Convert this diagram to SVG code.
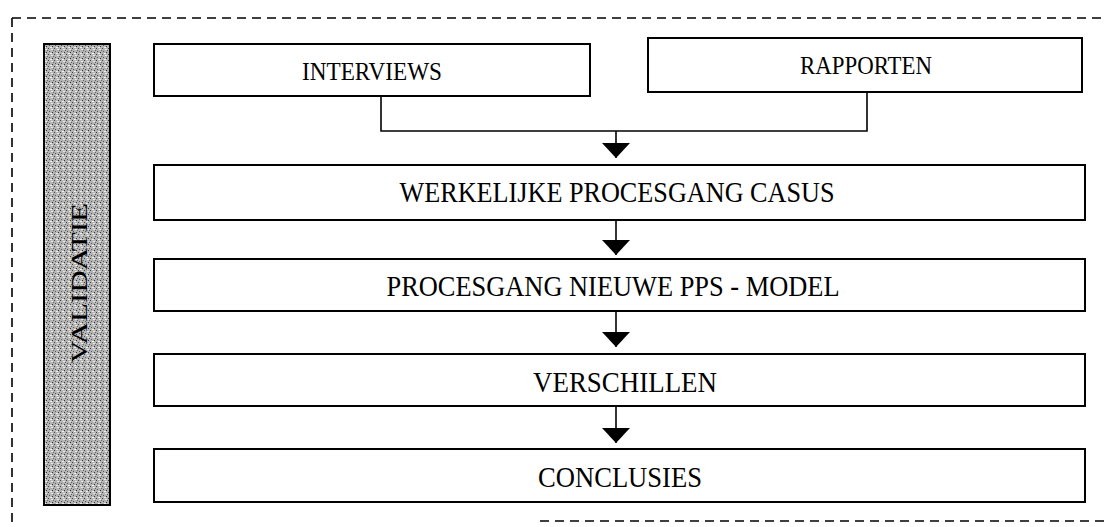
<svg xmlns="http://www.w3.org/2000/svg" width="1107" height="527" viewBox="0 0 1107 527">
<style>
.box{fill:#fff;stroke:#000;stroke-width:2}
.lbl{font-family:"Liberation Serif","Times New Roman",serif;fill:#000;text-anchor:middle}
.big{font-size:30px}
.sm{font-size:26px}
.con{fill:none;stroke:#000;stroke-width:1.6}
.frame{fill:none;stroke:#000;stroke-width:1.6;stroke-dasharray:9 6}
</style>
<defs>
<pattern id="stip" width="6" height="6" patternUnits="userSpaceOnUse">
<rect width="6" height="6" fill="#b4b4b4"/>
<rect x="0" y="0" width="1" height="1" fill="#444"/>
<rect x="3" y="1" width="2" height="1" fill="#e8e8e8"/>
<rect x="1" y="3" width="1" height="1" fill="#555"/>
<rect x="4" y="4" width="1" height="1" fill="#333"/>
<rect x="2" y="5" width="2" height="1" fill="#eeeeee"/>
<rect x="5" y="2" width="1" height="1" fill="#666"/>
</pattern>
<marker id="ah" markerUnits="userSpaceOnUse" markerWidth="16" markerHeight="30" viewBox="0 -15 16 30" refX="15" refY="0" orient="auto">
<path d="M0,-14 L15,0 L0,14 Z" fill="#000"/>
</marker>
</defs>
<g id="frame">
<line class="frame" x1="12" y1="18" x2="1107" y2="18"/>
<line class="frame" x1="12" y1="18" x2="12" y2="527"/>
<line class="frame" x1="540" y1="521" x2="1107" y2="521"/>
</g>
<g id="validatie">
<rect x="44" y="44" width="66" height="461" fill="url(#stip)" stroke="#000" stroke-width="2"/>
<text class="lbl" font-size="23" transform="translate(87,283) rotate(-90)" textLength="160" lengthAdjust="spacingAndGlyphs">VALIDATIE</text>
</g>
<g id="connectors">
<polyline class="con" points="381,96 381,131 867,131 867,92"/>
<line class="con" x1="616" y1="131" x2="616" y2="158" marker-end="url(#ah)"/>
<line class="con" x1="616" y1="221" x2="616" y2="255" marker-end="url(#ah)"/>
<line class="con" x1="616" y1="312" x2="616" y2="347" marker-end="url(#ah)"/>
<line class="con" x1="616" y1="406" x2="616" y2="443" marker-end="url(#ah)"/>
</g>
<g id="interviews">
<rect class="box" x="154" y="44" width="436" height="52"/>
<text class="lbl sm" x="372" y="80" textLength="140" lengthAdjust="spacingAndGlyphs">INTERVIEWS</text>
</g>
<g id="rapporten">
<rect class="box" x="648" y="38" width="434" height="54"/>
<text class="lbl sm" x="866" y="74" textLength="132" lengthAdjust="spacingAndGlyphs">RAPPORTEN</text>
</g>
<g id="werkelijke">
<rect class="box" x="154" y="165" width="931" height="55"/>
<text class="lbl big" x="617" y="202" textLength="435" lengthAdjust="spacingAndGlyphs">WERKELIJKE PROCESGANG CASUS</text>
</g>
<g id="procesgang">
<rect class="box" x="154" y="259" width="931" height="52"/>
<text class="lbl big" x="613" y="296" textLength="453" lengthAdjust="spacingAndGlyphs">PROCESGANG NIEUWE PPS - MODEL</text>
</g>
<g id="verschillen">
<rect class="box" x="154" y="354" width="931" height="52"/>
<text class="lbl big" x="625" y="392" textLength="184" lengthAdjust="spacingAndGlyphs">VERSCHILLEN</text>
</g>
<g id="conclusies">
<rect class="box" x="154" y="449" width="931" height="53"/>
<text class="lbl big" x="620" y="487" textLength="164" lengthAdjust="spacingAndGlyphs">CONCLUSIES</text>
</g>
</svg>
